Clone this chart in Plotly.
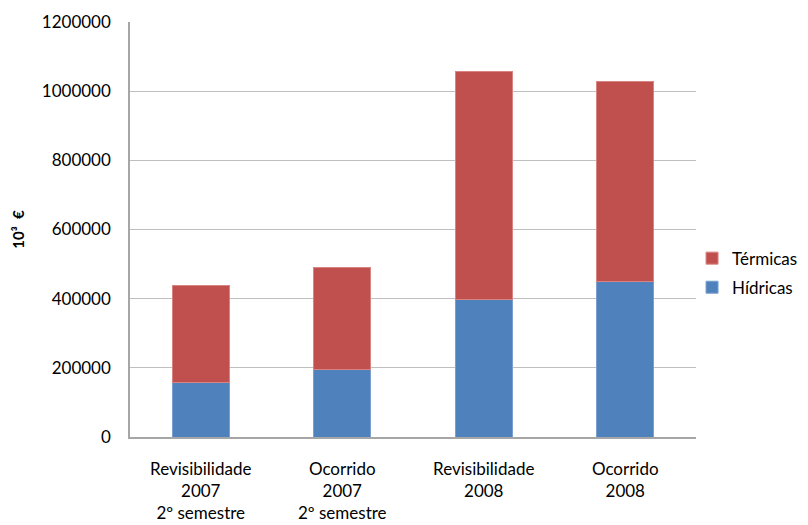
import plotly.graph_objects as go

categories = [
    "Revisibilidade<br>2007<br>2º semestre",
    "Ocorrido<br>2007<br>2º semestre",
    "Revisibilidade<br>2008",
    "Ocorrido<br>2008",
]
hidricas = [157000, 194000, 398000, 451000]
termicas = [281000, 295000, 660000, 578000]
y_ticks = [0, 200000, 400000, 600000, 800000, 1000000, 1200000]

font_family = "Lato, 'Open Sans', sans-serif"

fig = go.Figure()
fig.add_trace(go.Bar(
    name="Hídricas", x=categories, y=hidricas,
    legendgroup="h", legendrank=2,
    marker=dict(color="#4F81BD", line=dict(color="#7BA0CF", width=1)),
    width=0.4,
))
fig.add_trace(go.Bar(
    name="Térmicas", x=categories, y=termicas,
    legendgroup="t", legendrank=1,
    marker=dict(color="#C0504D", line=dict(color="#D88482", width=1)),
    width=0.4,
))

fig.update_layout(
    barmode="stack",
    width=808, height=525,
    margin=dict(l=130, r=112, t=22, b=88, autoexpand=False),
    plot_bgcolor="white", paper_bgcolor="white",
    font=dict(family=font_family, size=17, color="#000000"),
    legend=dict(
        traceorder="grouped",
        tracegroupgap=4,
        x=0.993, xanchor="left", y=0.395, yanchor="middle",
        font=dict(size=17), itemwidth=30,
        bgcolor="rgba(0,0,0,0)",
    ),
    xaxis=dict(
        showline=True, linecolor="#A6A6A6", linewidth=1.5,
        ticks="", ticklabelstandoff=16,
        tickfont=dict(size=17),
    ),
    yaxis=dict(
        range=[0, 1200000], tickvals=y_ticks,
        ticktext=[str(v) for v in y_ticks],
        showline=True, linecolor="#A6A6A6", linewidth=1.5,
        showgrid=True, gridcolor="#BFBFBF", gridwidth=1,
        ticks="", ticklabelstandoff=14,
        tickfont=dict(size=17),
        zeroline=False,
        title=dict(text="<b>10³  €</b>", font=dict(size=15), standoff=14),
    ),
)

fig.write_html("out.html")
